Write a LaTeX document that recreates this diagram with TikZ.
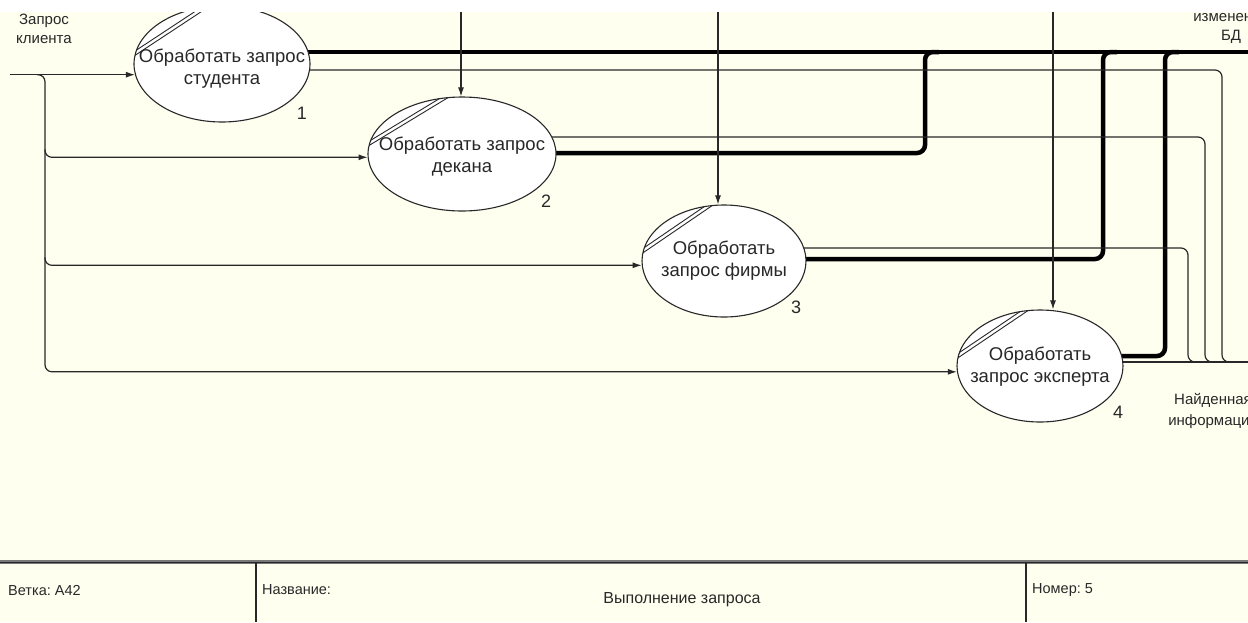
\documentclass[tikz,border=0pt]{standalone}
\usepackage{fontspec}
\setmainfont{Liberation Sans}
\usetikzlibrary{arrows.meta,calc,shapes.geometric}
\pgfdeclarelayer{bg}
\pgfdeclarelayer{lines}
\pgfdeclarelayer{fg}
\pgfsetlayers{bg,lines,main,fg}
\definecolor{cream}{RGB}{255,255,240}
\definecolor{ink}{RGB}{40,40,40}
\definecolor{framegray}{RGB}{120,120,120}
\newcommand\pdiag[3]{%
  \begin{scope}
    \clip (#1) ellipse [x radius=#2, y radius=#3];
    \draw[diag] ($(#1)+({-1.116*#2},{-0.096*#3})$) -- ($(#1)+({-0.096*#2},{-1.116*#3})$);
    \draw[diag] ($(#1)+({-1.116*#2+2},{-0.096*#3+3})$) -- ($(#1)+({-0.096*#2+2},{-1.116*#3+3})$);
  \end{scope}}
\begin{document}
\begin{tikzpicture}[x=1pt,y=-1pt,
  proc/.style={ellipse, draw=ink, line width=1.1pt, fill=white, inner sep=0pt},
  ptext/.style={font=\fontsize{18.5}{22}\selectfont, align=center, text=ink, inner sep=0pt},
  num/.style={font=\fontsize{18}{22}\selectfont, text=ink, inner sep=0pt},
  lbl/.style={font=\fontsize{15}{19}\selectfont, align=center, text=ink, inner sep=0pt},
  foot/.style={font=\fontsize{14.5}{16}\selectfont, text=ink, inner sep=0pt},
  flow/.style={draw=ink, line width=1.2pt, rounded corners=7pt},
  arr/.style={flow, -{Latex[length=9pt,width=6pt]}},
  thk/.style={draw=black, line width=4.5pt, rounded corners=8pt},
  diag/.style={draw=ink, line width=0.9pt}]
\useasboundingbox (0,0) rectangle (1248,622);
\begin{pgfonlayer}{bg}
  \fill[cream] (0,0) rectangle (1248,622);
\end{pgfonlayer}
\begin{pgfonlayer}{fg}
  \fill[white] (0,0) rectangle (1248,12);
\end{pgfonlayer}

% processes
\node[proc, minimum width=176pt, minimum height=116pt] (e1) at (222,64) {};
\pdiag{e1}{88}{58}
\node[proc, minimum width=188pt, minimum height=114pt] (e2) at (462,154) {};
\pdiag{e2}{94}{57}
\node[proc, minimum width=164pt, minimum height=112pt] (e3) at (724,261) {};
\pdiag{e3}{82}{56}
\node[proc, minimum width=166pt, minimum height=112pt] (e4) at (1040,366) {};
\pdiag{e4}{83}{56}

\node[ptext] (t1) at ($(e1)+(0,5)$) {Обработать запрос\\студента};
\node[ptext] (t2) at ($(e2)+(0,3)$) {Обработать запрос\\декана};
\node[ptext] (t3) at ($(e3)+(0,0)$) {Обработать\\запрос фирмы};
\node[ptext] (t4) at ($(e4)+(0,1)$) {Обработать\\запрос эксперта};

\node[num] (n1) at (302,113) {1};
\node[num] (n2) at (546,201) {2};
\node[num] (n3) at (796,307) {3};
\node[num] (n4) at (1118,412) {4};

% labels
\node[lbl] (lin) at (44,29) {Запрос\\клиента};
\node[lbl] (lupd) at (1231,28) {изменения\\БД};
\node[lbl, font=\fontsize{15}{21}\selectfont] (lfound) at (1213,411) {Найденная\\информация};

% connectors
\begin{pgfonlayer}{lines}
  \coordinate (inx) at (10,0);
  \coordinate (jx) at (45,0);
  \coordinate (R) at (1262,0);
  % inputs
  \draw[arr] (e1.187 -| inx) -- (e1.187);
  \draw[arr] ($(e1.187 -| jx)+(-8,0)$) -- (e1.187 -| jx) -- (e4.184 -| jx) -- (e4.184);
  \draw[arr] ($(e2.182 -| jx)+(0,-8)$) -- (e2.182 -| jx) -- (e2.182);
  \draw[arr] ($(e3.183 -| jx)+(0,-8)$) -- (e3.183 -| jx) -- (e3.183);
  % controls
  \coordinate (c2) at (461,0);
  \coordinate (c3) at (718,0);
  \coordinate (c4) at (1053,0);
  % thick outputs
  \coordinate (o1k) at ($(e1)+(0,-12)$);
  \coordinate (o2k) at ($(e2)+(0,-1)$);
  \coordinate (o3k) at ($(e3)+(0,-2)$);
  \coordinate (o4k) at ($(e4)+(0,-10)$);
  \draw[thk] (o1k) -- (o1k -| R);
  \draw[thk] (o2k) -| (925,52) -- (939,52);
  \draw[thk] (o3k) -| (1103,52) -- (1117,52);
  \draw[thk] (o4k) -| (1165,52) -- (1179,52);
  % thin outputs
  \coordinate (o1t) at ($(e1)+(0,6)$);
  \coordinate (o2t) at ($(e2)+(0,-17)$);
  \coordinate (o3t) at ($(e3)+(0,-13)$);
  \coordinate (o4t) at ($(e4)+(0,-4)$);
  \draw[flow] (o1t) -| (1222,362) -- (1236,362);
  \draw[flow] (o2t) -| (1205,362) -- (1219,362);
  \draw[flow] (o3t) -| (1188,362) -- (1202,362);
  \draw[flow] (o4t) -- (o4t -| R);
  \draw[arr] (c2) -- (c2 |- e2.north);
  \draw[arr] (c3) -- (c3 |- e3.north);
  \draw[arr] (c4) -- (c4 |- e4.north);
\end{pgfonlayer}

% title block
\draw[framegray, line width=3.5pt] (0,562) -- (1248,562);
\draw[ink, line width=0.8pt] (0,562) -- (1248,562);
\draw[ink, line width=1.2pt] (256,562) -- (256,622);
\draw[ink, line width=1.2pt] (1026,562) -- (1026,622);
\node[foot, anchor=west] (fb) at (8,590) {Ветка:\ A42};
\node[foot, anchor=west] (fn) at (262,590) {Название:};
\node[foot, font=\fontsize{16}{18}\selectfont] (ft) at (682,600) {Выполнение запроса};
\node[foot, anchor=west] (fno) at (1032,590) {Номер:\ 5};
\end{tikzpicture}
\end{document}
